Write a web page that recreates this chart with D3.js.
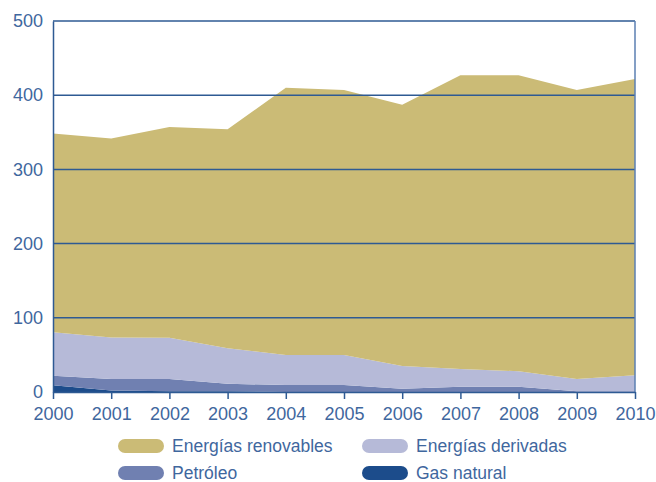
<!DOCTYPE html>
<html>
<head>
<meta charset="utf-8">
<script src="https://cdn.jsdelivr.net/npm/d3@7"></script>
<style>
  body { margin: 0; background: #fff; }
  text { font-family: "Liberation Sans", Arial, sans-serif; fill: #3f679e; }
</style>
</head>
<body>
<div id="container"></div>
<script>
/* DATA */
var years = [2000, 2001, 2002, 2003, 2004, 2005, 2006, 2007, 2008, 2009, 2010];
var gasNatural = [9, 2, 1, 1, 0, 0, 0, 0, 0, 0, 0];
var petroleo = [13, 15.5, 16.5, 10, 9.5, 9.5, 4.5, 7, 7, 1, 1];
var derivadas = [58.5, 56, 55.5, 48, 40.5, 40.5, 30.5, 24, 21, 16.5, 21.5];
var renovables = [268, 268, 284, 295, 360, 357, 352, 396, 399, 389.5, 399.5];
var yTicks = [0, 100, 200, 300, 400, 500];

var seriesNames = ["Gas natural", "Petróleo", "Energías derivadas", "Energías renovables"];
var colors = {
  "Gas natural": "#1c4c8b",
  "Petróleo": "#7080b1",
  "Energías derivadas": "#b6bad8",
  "Energías renovables": "#cbbb76"
};

var width = 656, height = 482;
var margin = {left: 53, right: 21, top: 21, bottom: 90};
var axisColor = "#2e5a93";

var table = years.map(function(y, i) {
  return {
    year: y,
    "Gas natural": gasNatural[i],
    "Petróleo": petroleo[i],
    "Energías derivadas": derivadas[i],
    "Energías renovables": renovables[i]
  };
});

/* SCALES */
var x = d3.scaleLinear()
  .domain([2000, 2010])
  .range([margin.left, width - margin.right]);

var y = d3.scaleLinear()
  .domain([0, 500])
  .range([height - margin.bottom, margin.top]);

var stack = d3.stack().keys(seriesNames);
var layers = stack(table);

var area = d3.area()
  .x(function(d) { return x(d.data.year); })
  .y0(function(d) { return y(d[0]); })
  .y1(function(d) { return y(d[1]); });

/* HTML ELEMENTS */
var svg = d3.select('#container').append('svg')
  .attr('width', width)
  .attr('height', height);

svg.selectAll('path.layer')
  .data(layers)
  .enter().append('path')
    .attr('class', 'layer')
    .attr('d', area)
    .style('fill', function(d) { return colors[d.key]; });

// gridlines
svg.selectAll('line.grid')
  .data(yTicks.filter(function(t) { return t > 0; }))
  .enter().append('line')
    .attr('x1', margin.left)
    .attr('x2', width - margin.right)
    .attr('y1', function(d) { return y(d); })
    .attr('y2', function(d) { return y(d); })
    .style('stroke', axisColor)
    .style('stroke-width', 1.5);

// right frame line
svg.append('line')
  .attr('x1', x(2010)).attr('x2', x(2010))
  .attr('y1', y(500)).attr('y2', y(0))
  .style('stroke', '#5b7fb2').style('stroke-width', 1.5);

var yAxis = d3.axisLeft(y).tickValues(yTicks).tickSize(0).tickPadding(10);
var gy = svg.append('g')
  .attr('transform', 'translate(' + margin.left + ',0)')
  .call(yAxis);
gy.select('.domain').style('stroke', axisColor).style('stroke-width', 1.5);
gy.selectAll('text').style('font-size', '18px').style('fill', '#3f679e');

var xAxis = d3.axisBottom(x).tickValues(years).tickFormat(d3.format('d')).tickSize(7).tickSizeOuter(0).tickPadding(8);
var gx = svg.append('g')
  .attr('transform', 'translate(0,' + y(0) + ')')
  .call(xAxis);
gx.select('.domain').style('stroke', axisColor).style('stroke-width', 1.5);
gx.selectAll('line').style('stroke', axisColor).style('stroke-width', 1.5);
gx.selectAll('text').style('font-size', '18px').style('fill', '#3f679e');

/* LEGEND */
var legendOrder = ["Energías renovables", "Energías derivadas", "Petróleo", "Gas natural"];
var legend = svg.selectAll('g.legend')
  .data(legendOrder)
  .enter().append('g')
    .attr('class', 'legend')
    .attr('transform', function(d, i) {
      var lx = (i % 2 === 0) ? 118 : 362;
      var ly = (i < 2) ? 446 : 473;
      return 'translate(' + lx + ',' + ly + ')';
    });

legend.append('rect')
  .attr('x', 0).attr('y', -7)
  .attr('width', 46).attr('height', 14)
  .attr('rx', 7).attr('ry', 7)
  .style('fill', function(d) { return colors[d]; });

legend.append('text')
  .attr('x', 54).attr('y', 0)
  .attr('dy', '0.35em')
  .style('font-size', '17.5px')
  .text(function(d) { return d; });
</script>
</body>
</html>
